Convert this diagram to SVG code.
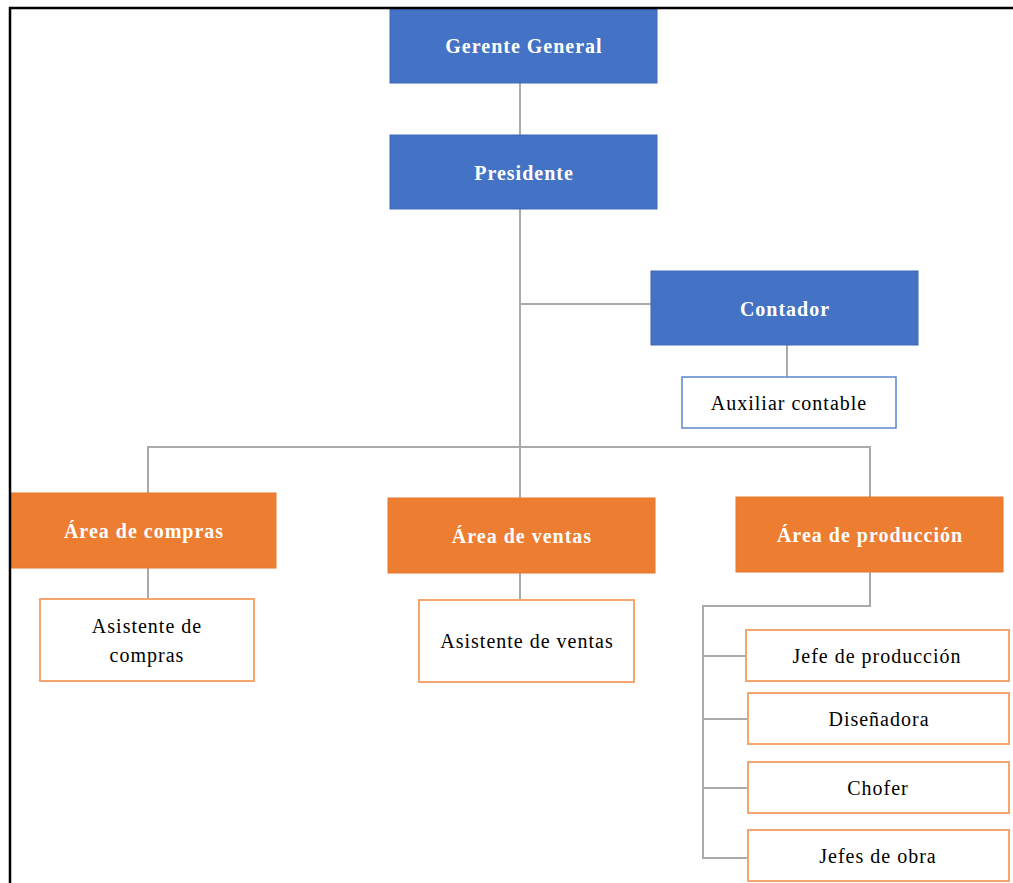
<svg xmlns="http://www.w3.org/2000/svg" width="1013" height="883" viewBox="0 0 1013 883">
<style>
.blue{fill:#4472C4;stroke:#3F68B5;stroke-width:1}
.orange{fill:#ED7D31;stroke:#E8782C;stroke-width:1}
.wo{fill:#FFFFFF;stroke:#F4A66E;stroke-width:2}
.wb{fill:#FFFFFF;stroke:#5B86D0;stroke-width:1.5}
.tb{font-family:"Liberation Serif","Times New Roman",serif;font-size:20px;font-weight:bold;fill:#FFFFFF;text-anchor:middle;letter-spacing:1px}
.tn{font-family:"Liberation Serif","Times New Roman",serif;font-size:20px;fill:#000000;text-anchor:middle;letter-spacing:1px}
.ln{fill:none;stroke:#AAAAAA;stroke-width:2}
</style>
<rect x="0" y="0" width="1013" height="883" fill="#FFFFFF"/>
<g id="connectors">
<path class="ln" d="M520,83 V135"/>
<path class="ln" d="M520,209 V498"/>
<path class="ln" d="M520,304 H651"/>
<path class="ln" d="M787,345 V377"/>
<path class="ln" d="M148,493 V447 H870 V497"/>
<path class="ln" d="M148,568 V599"/>
<path class="ln" d="M520,573 V600"/>
<path class="ln" d="M870,572 V606 H703 V858 H748"/>
<path class="ln" d="M703,656 H746"/>
<path class="ln" d="M703,719 H748"/>
<path class="ln" d="M703,788 H748"/>
</g>
<g id="gerente">
<rect class="blue" x="390" y="9" width="267" height="74"/>
<text class="tb" x="524" y="53">Gerente General</text>
</g>
<g id="presidente">
<rect class="blue" x="390" y="135" width="267" height="74"/>
<text class="tb" x="524" y="180">Presidente</text>
</g>
<g id="contador">
<rect class="blue" x="651" y="271" width="267" height="74"/>
<text class="tb" x="785" y="316">Contador</text>
</g>
<g id="auxiliar">
<rect class="wb" x="682" y="377" width="214" height="51"/>
<text class="tn" x="789" y="410">Auxiliar contable</text>
</g>
<g id="area-compras">
<rect class="orange" x="11" y="493" width="265" height="75"/>
<text class="tb" x="144" y="538">Área de compras</text>
</g>
<g id="asistente-compras">
<rect class="wo" x="40" y="599" width="214" height="82"/>
<text class="tn" x="147" y="633">Asistente de</text>
<text class="tn" x="147" y="662">compras</text>
</g>
<g id="area-ventas">
<rect class="orange" x="388" y="498" width="267" height="75"/>
<text class="tb" x="522" y="543">Área de ventas</text>
</g>
<g id="asistente-ventas">
<rect class="wo" x="419" y="600" width="215" height="82"/>
<text class="tn" x="527" y="648">Asistente de ventas</text>
</g>
<g id="area-produccion">
<rect class="orange" x="736" y="497" width="267" height="75"/>
<text class="tb" x="870" y="542">Área de producción</text>
</g>
<g id="jefe-produccion">
<rect class="wo" x="746" y="630" width="263" height="51"/>
<text class="tn" x="877" y="663">Jefe de producción</text>
</g>
<g id="disenadora">
<rect class="wo" x="748" y="693" width="261" height="51"/>
<text class="tn" x="879" y="726">Diseñadora</text>
</g>
<g id="chofer">
<rect class="wo" x="748" y="762" width="261" height="51"/>
<text class="tn" x="878" y="795">Chofer</text>
</g>
<g id="jefes-obra">
<rect class="wo" x="748" y="830" width="261" height="51"/>
<text class="tn" x="878" y="863">Jefes de obra</text>
</g>
<g id="frame">
<path d="M10,883 V8 H1013" fill="none" stroke="#000000" stroke-width="2.5"/>
</g>
</svg>
